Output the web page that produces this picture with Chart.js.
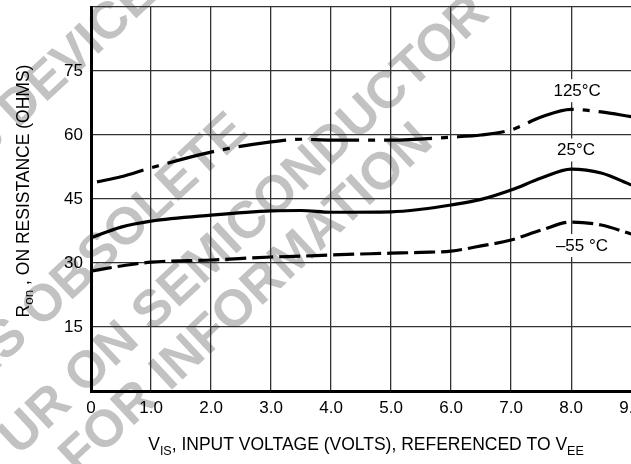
<!DOCTYPE html>
<html>
<head>
<meta charset="utf-8">
<script src="https://cdn.jsdelivr.net/npm/chart.js@4.4.1/dist/chart.umd.min.js"></script>
<style>
    html, body { margin: 0; padding: 0; background: #fff; overflow: hidden; }
    #wrap { width: 650px; height: 464px; }
</style>
</head>
<body>
<div id="wrap"><canvas id="chart" width="650" height="464"></canvas></div>
<script>
// input voltage (volts) sampled for the 25 and -55 curves
const vIn = [0, 0.5, 1, 2, 3, 3.5, 4, 5, 5.5, 6, 6.5, 7, 7.5, 8, 8.5, 9];
const ron25 = [35.9, 38.4, 39.8, 41.2, 42.2, 42.3, 41.9, 42.0, 42.6, 43.6, 44.9, 47.1, 49.9, 52.0, 51.1, 48.3];
const ronM55 = [28.1, 29.3, 30.2, 30.7, 31.4, 31.6, 31.9, 32.3, 32.5, 32.8, 34.0, 35.4, 37.7, 39.6, 38.9, 36.8];

// 125 curve starts a little right of zero
const v125 = [0.1, 0.5, 1, 2, 3, 3.5, 4, 5, 6, 6.5, 7, 7.5, 8, 8.5, 9];
const ron125 = [49.0, 50.2, 52.3, 56.0, 58.4, 59.0, 58.8, 58.8, 59.5, 60.0, 61.2, 64.2, 66.0, 65.4, 64.3];

const curveNames = ['125°C', '25°C', '\u201355 °C'];

const xTickValues = [0, 1, 2, 3, 4, 5, 6, 7, 8, 9];
const xTickLabels = ['0', '1.0', '2.0', '3.0', '4.0', '5.0', '6.0', '7.0', '8.0', '9.0'];
const yTickValues = [0, 15, 30, 45, 60, 75, 90];
const yTickLabels = ['', '15', '30', '45', '60', '75', ''];

const FONT = '"Liberation Sans", Arial, Helvetica, sans-serif';

function toPoints(xs, ys) {
    return xs.map((x, i) => ({ x: x, y: ys[i] }));
}

// grey diagonal watermark behind the grid
const watermarkPlugin = {
    id: 'watermark',
    beforeDraw(chart) {
        const ctx = chart.ctx;
        const lines = [
            { text: 'THIS DEVICE', cx: 30, cy: 98 },
            { text: 'IS OBSOLETE', cx: 112, cy: 243 },
            { text: 'UR ON SEMICONDUCTOR', cx: 245, cy: 226 },
            { text: 'FOR INFORMATION', cx: 247, cy: 300 }
        ];
        ctx.save();
        ctx.fillStyle = '#c2c2c2';
        ctx.font = 'bold 52px ' + FONT;
        ctx.textAlign = 'center';
        ctx.textBaseline = 'middle';
        lines.forEach(l => {
            ctx.save();
            ctx.translate(l.cx, l.cy);
            ctx.rotate(-43 * Math.PI / 180);
            ctx.fillText(l.text, 0, 0);
            ctx.restore();
        });
        ctx.restore();
    }
};

// curve labels sitting on white boxes
const curveLabelPlugin = {
    id: 'curveLabels',
    afterDatasetsDraw(chart) {
        const ctx = chart.ctx;
        const xs = chart.scales.x;
        const ys = chart.scales.y;
        const spots = [
            { x: 8.1, y: 70.5 },
            { x: 8.08, y: 56.6 },
            { x: 8.18, y: 34.2 }
        ];
        ctx.save();
        ctx.font = '17px ' + FONT;
        ctx.textAlign = 'center';
        ctx.textBaseline = 'middle';
        spots.forEach((s, i) => {
            const px = xs.getPixelForValue(s.x);
            const py = ys.getPixelForValue(s.y);
            const w = ctx.measureText(curveNames[i]).width + 6;
            ctx.fillStyle = '#fff';
            ctx.fillRect(px - w / 2, py - 11, w, 23);
            ctx.fillStyle = '#000';
            ctx.fillText(curveNames[i], px, py + 1);
        });
        ctx.restore();
    }
};

// axis titles with subscripts
function drawPieces(ctx, pieces, startX, baseY) {
    let x = startX;
    pieces.forEach(p => {
        ctx.font = p.size + 'px ' + FONT;
        ctx.fillText(p.t, x, baseY + (p.sub ? p.drop : 0));
        x += ctx.measureText(p.t).width;
    });
}
function piecesWidth(ctx, pieces) {
    let w = 0;
    pieces.forEach(p => {
        ctx.font = p.size + 'px ' + FONT;
        w += ctx.measureText(p.t).width;
    });
    return w;
}

const axisTitlePlugin = {
    id: 'axisTitles',
    afterDraw(chart) {
        const ctx = chart.ctx;
        ctx.save();
        ctx.fillStyle = '#000';
        ctx.textAlign = 'left';
        ctx.textBaseline = 'alphabetic';

        const xPieces = [
            { t: 'V', size: 17.5 },
            { t: 'IS', size: 12.5, sub: true, drop: 5 },
            { t: ', INPUT VOLTAGE (VOLTS), REFERENCED TO V', size: 17.5 },
            { t: 'EE', size: 12.5, sub: true, drop: 5 }
        ];
        const xw = piecesWidth(ctx, xPieces);
        drawPieces(ctx, xPieces, 366 - xw / 2, 450);

        const yPieces = [
            { t: 'R', size: 17.5 },
            { t: 'on', size: 13.5, sub: true, drop: 4 },
            { t: ' , ON RESISTANCE (OHMS)', size: 17.5 }
        ];
        const yw = piecesWidth(ctx, yPieces);
        ctx.translate(29, 191);
        ctx.rotate(-Math.PI / 2);
        drawPieces(ctx, yPieces, -yw / 2, 0);
        ctx.restore();
    }
};

const lineBase = {
    borderColor: '#000',
    borderWidth: 3.2,
    pointRadius: 0,
    fill: false,
    tension: 0.4,
    cubicInterpolationMode: 'monotone',
    borderCapStyle: 'butt'
};

new Chart(document.getElementById('chart'), {
    type: 'line',
    data: {
        datasets: [
            Object.assign({}, lineBase, { label: curveNames[0], data: toPoints(v125, ron125), borderDash: [48, 9, 7, 9] }),
            Object.assign({}, lineBase, { label: curveNames[1], data: toPoints(vIn, ron25) }),
            Object.assign({}, lineBase, { label: curveNames[2], data: toPoints(vIn, ronM55), borderDash: [21, 6] })
        ]
    },
    options: {
        responsive: false,
        animation: false,
        events: [],
        layout: { padding: { top: 0, right: 14, bottom: 0, left: 0 } },
        plugins: {
            legend: { display: false },
            tooltip: { enabled: false }
        },
        scales: {
            x: {
                type: 'linear',
                min: 0,
                max: 9,
                afterFit(scale) { scale.height = 73; },
                afterBuildTicks(scale) { scale.ticks = xTickValues.map(v => ({ value: v })); },
                ticks: {
                    autoSkip: false,
                    maxRotation: 0,
                    padding: 7,
                    color: '#000',
                    font: { family: FONT, size: 17 },
                    callback: (v, i) => xTickLabels[i]
                },
                grid: { color: '#333', lineWidth: 1.3, drawTicks: false },
                border: { color: '#000', width: 3 }
            },
            y: {
                min: 0,
                max: 90,
                afterFit(scale) {
                    scale.width = 91;
                    scale.paddingTop = 7;
                },
                afterBuildTicks(scale) { scale.ticks = yTickValues.map(v => ({ value: v })); },
                ticks: {
                    padding: 8,
                    color: '#000',
                    font: { family: FONT, size: 17, lineHeight: 0.82 },
                    callback: (v, i) => yTickLabels[i]
                },
                grid: { color: '#333', lineWidth: 1.3, drawTicks: false },
                border: { color: '#000', width: 3 }
            }
        }
    },
    plugins: [watermarkPlugin, curveLabelPlugin, axisTitlePlugin]
});
</script>
</body>
</html>
